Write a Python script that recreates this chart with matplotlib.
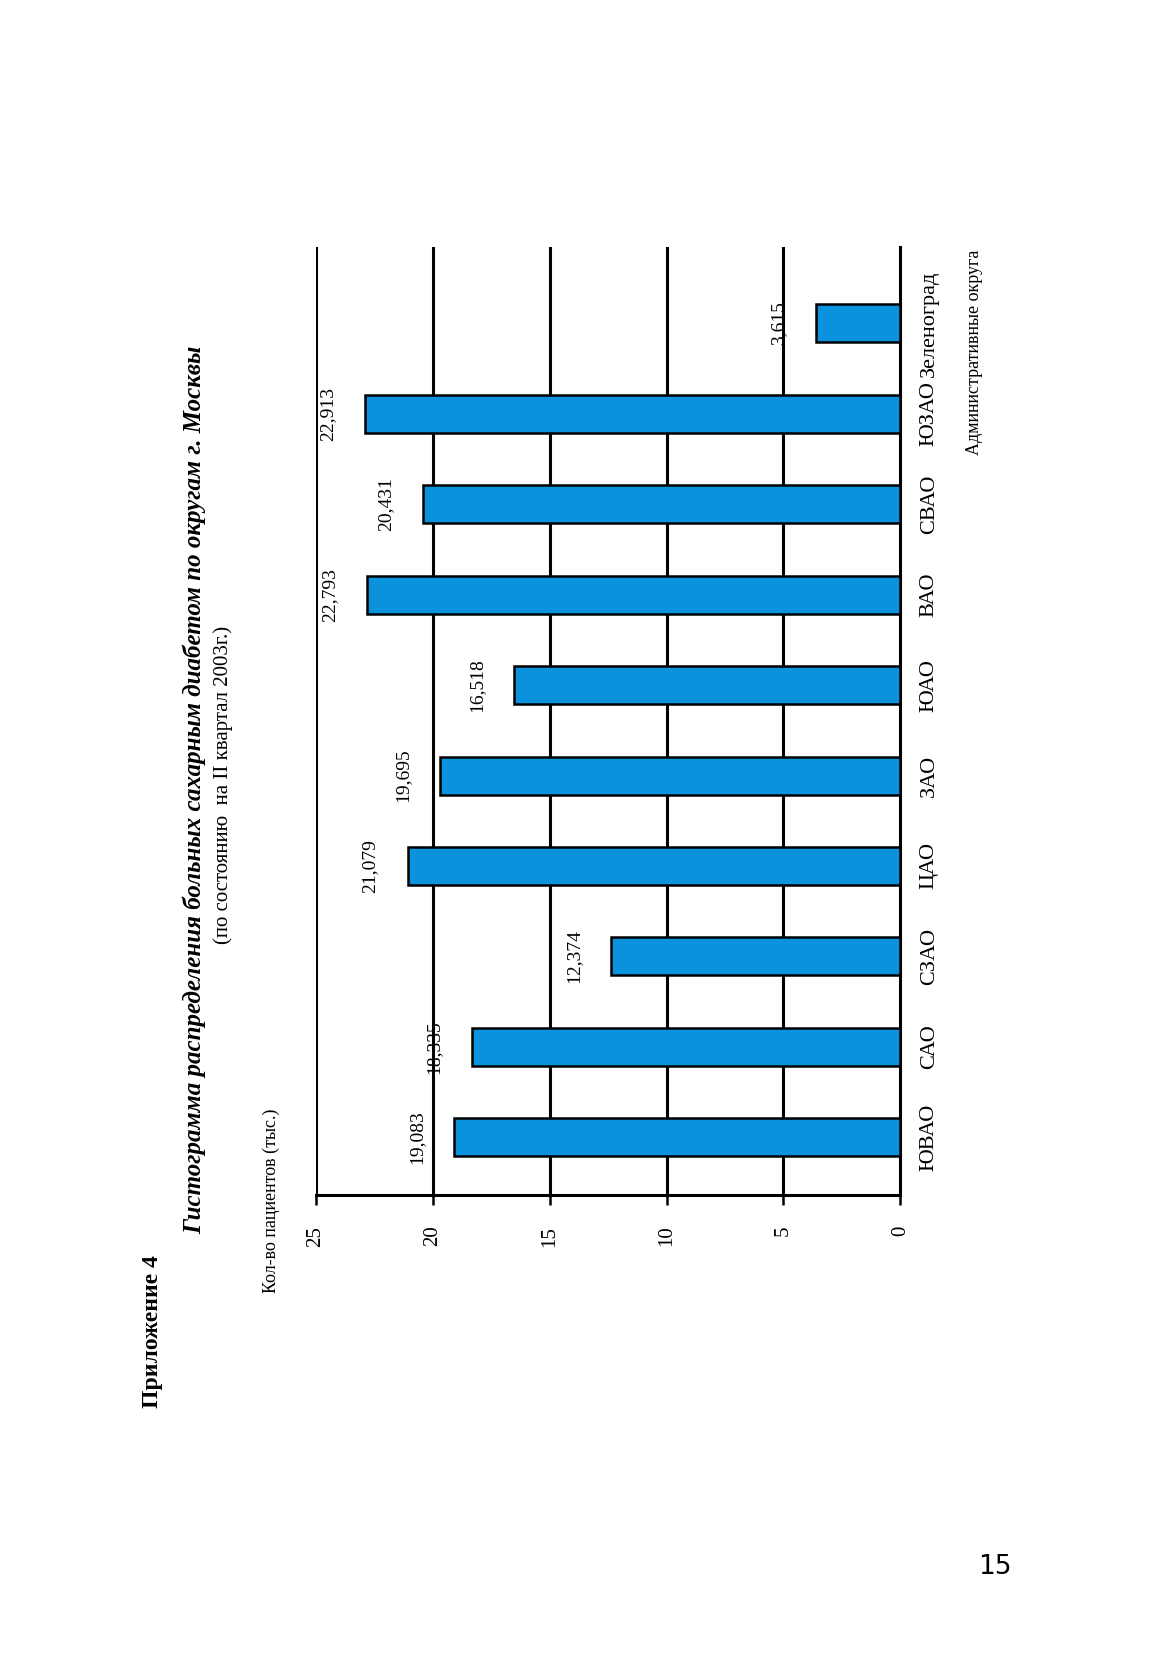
import matplotlib
matplotlib.use("Agg")
import matplotlib.pyplot as plt

categories = ["ЮВАО", "САО", "СЗАО", "ЦАО", "ЗАО", "ЮАО", "ВАО", "СВАО", "ЮЗАО", "Зеленоград"]
values = [19.083, 18.335, 12.374, 21.079, 19.695, 16.518, 22.793, 20.431, 22.913, 3.615]
labels = ["19,083", "18,335", "12,374", "21,079", "19,695", "16,518", "22,793", "20,431", "22,913", "3,615"]
ticks = [0, 5, 10, 15, 20, 25]

S = 1.053
W, H = 1167, 1653
def fx(x): return x * S / W
def fy(y): return 1 - y * S / H

plt.rcParams['font.family'] = ['Liberation Serif', 'DejaVu Serif']
fig = plt.figure(figsize=(11.67, 16.53), dpi=100)
ax = fig.add_axes([fx(300), fy(1135), 555 * S / W, 900 * S / H])

ypos = list(range(len(categories)))
ax.barh(ypos, values, height=0.42, color="#0a93dc", edgecolor="black", linewidth=1.8, zorder=3)
for x in ticks[1:]:
    ax.axvline(x, color="black", lw=2.2, zorder=1)
ax.set_xlim(25, 0)
ax.set_ylim(-0.64, 9.84)
for s in ["top", "left"]:
    ax.spines[s].set_visible(False)
ax.spines["bottom"].set_linewidth(2.2)
ax.spines["right"].set_linewidth(2.2)
ax.yaxis.tick_right()
ax.set_yticks(ypos)
ax.set_yticklabels(categories, rotation=90, va="center", fontsize=16)
ax.tick_params(axis="y", length=0, pad=14)
ax.set_xticks(ticks)
ax.set_xticklabels([str(t) for t in ticks], rotation=90, fontsize=15)
ax.tick_params(axis="x", length=7, width=1.8, pad=15)
for i, (v, l) in enumerate(zip(values, labels)):
    ax.text(v + 1.6, i, l, rotation=90, ha="center", va="center", fontsize=14)

fig.text(fx(145), fy(1265), "Приложение 4", rotation=90, ha="center", va="center", fontsize=17, fontweight="bold")
fig.text(fx(185), fy(750), "Гистограмма распределения больных сахарным диабетом по округам г. Москвы",
         rotation=90, ha="center", va="center", fontsize=18, fontweight="bold", fontstyle="italic")
fig.text(fx(212), fy(745), "(по состоянию  на II квартал 2003г.)", rotation=90, ha="center", va="center", fontsize=15)
fig.text(fx(258), fy(1140), "Кол-во пациентов (тыс.)", rotation=90, ha="center", va="center", fontsize=13)
fig.text(fx(925), fy(335), "Административные округа", rotation=90, ha="center", va="center", fontsize=13)
fig.text(fx(945), fy(1488), "15", ha="center", va="center", fontsize=19, family="DejaVu Sans")

fig.savefig("out.png", dpi=100)
